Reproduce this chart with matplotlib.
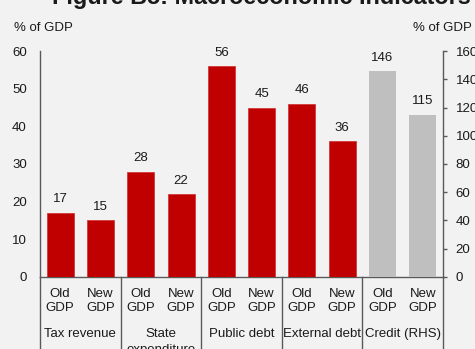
"""Macroeconomic indicators under the old and new GDP series."""

import matplotlib
matplotlib.use("Agg")
import matplotlib.pyplot as plt
import matplotlib.transforms as mtransforms

plt.rcParams["font.family"] = ["Liberation Sans", "DejaVu Sans"]

groups = ["Tax revenue", "State\nexpenditure", "Public debt", "External debt", "Credit (RHS)"]
bases = ["Old\nGDP", "New\nGDP"]
lhs_values = [17, 15, 28, 22, 56, 45, 46, 36]   # % of GDP, left axis
rhs_values = [146, 115]                         # credit, % of GDP, right axis

RED = "#c00000"
GREY = "#bfbfbf"
BG = "#f2f2f2"
INK = "#1a1a1a"
AXIS = "#595959"

fig = plt.figure(figsize=(4.75, 3.49), dpi=100, facecolor=BG)
ax = fig.add_axes([0.0842, 0.2072, 0.8484, 0.6458])
ax.set_facecolor(BG)
ax2 = ax.twinx()

n_lhs = len(lhs_values)
x_lhs = list(range(n_lhs))
x_rhs = [n_lhs + i for i in range(len(rhs_values))]
ax.bar(x_lhs, lhs_values, width=0.67, color=RED, edgecolor="#d23a3a", linewidth=0.6, zorder=3)
ax2.bar(x_rhs, rhs_values, width=0.67, color=GREY, zorder=3)

ax.set_xlim(-0.5, n_lhs + len(rhs_values) - 0.5)
ax.set_ylim(0, 60)
ax2.set_ylim(0, 160)
ax.set_yticks(range(0, 61, 10))
ax2.set_yticks(range(0, 161, 20))
ax.set_xticks([])

for a in (ax, ax2):
    a.spines["top"].set_visible(False)
    for side in ("left", "right", "bottom"):
        a.spines[side].set_color(AXIS)
        a.spines[side].set_linewidth(1.0)
ax.spines["right"].set_visible(False)
ax2.spines["left"].set_visible(False)
ax2.spines["bottom"].set_visible(False)

ax.tick_params(axis="y", length=0, pad=9.5, labelsize=9.5, labelcolor=INK)
ax2.tick_params(axis="y", length=3, width=1, color=AXIS, direction="out", pad=6,
                labelsize=9.5, labelcolor=INK)

# value labels above bars
for xi, v in zip(x_lhs, lhs_values):
    ax.annotate(str(v), (xi, v), xytext=(0, 7.5), textcoords="offset points",
                ha="center", va="baseline", fontsize=9.5, color=INK)
for xi, v in zip(x_rhs, rhs_values):
    ax2.annotate(str(v), (xi, v), xytext=(0, 7.5), textcoords="offset points",
                 ha="center", va="baseline", fontsize=9.5, color=INK)

# two-level category axis
trans = mtransforms.blended_transform_factory(ax.transData, ax.transAxes)
n_bars = n_lhs + len(rhs_values)
for i in range(n_bars):
    ax.annotate(bases[i % 2], (i, 0), xycoords=trans, xytext=(0, -8), textcoords="offset points",
                ha="center", va="top", fontsize=9.5, color=INK, linespacing=1.2,
                annotation_clip=False)
for g, name in enumerate(groups):
    ax.annotate(name, (2 * g + 0.5, 0), xycoords=trans, xytext=(0, -37), textcoords="offset points",
                ha="center", va="top", fontsize=9.5, color=INK, linespacing=1.4,
                annotation_clip=False)
for g in range(len(groups) + 1):
    ax.plot([2 * g - 0.5, 2 * g - 0.5], [0, -0.4], transform=trans, color=AXIS,
            lw=1.0, clip_on=False, zorder=4)

fig.text(0.03, 0.9126, "% of GDP", fontsize=9.5, color=INK, va="baseline")
fig.text(0.994, 0.9126, "% of GDP", fontsize=9.5, color=INK, va="baseline", ha="right")
fig.text(0.55, 0.988, "Figure B5: Macroeconomic Indicators", fontsize=16.8,
         fontweight="bold", color=INK, ha="center", va="baseline")

fig.savefig("out.png", dpi=100, facecolor=BG)
